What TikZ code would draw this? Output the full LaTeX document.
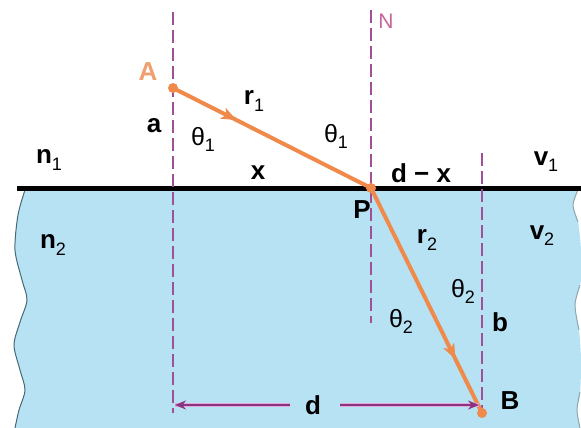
\documentclass[tikz,border=0pt]{standalone}
\usepackage{fontspec}
\setmainfont{Liberation Sans}
\usetikzlibrary{arrows.meta,decorations.markings}
\definecolor{water}{RGB}{182,226,243}
\definecolor{raycol}{RGB}{240,138,75}
\definecolor{dashc}{RGB}{160,80,150}
\definecolor{darrow}{RGB}{140,50,130}
\definecolor{darrowglow}{RGB}{225,170,215}
\definecolor{edgec}{RGB}{70,105,120}
\definecolor{alabel}{RGB}{240,160,110}
\definecolor{nlabel}{RGB}{200,100,150}
\newcommand{\lowsub}[1]{\raisebox{-0.45ex}{\fontsize{18}{18}\selectfont\mdseries #1}}
\begin{document}
\begin{tikzpicture}[x=1pt,y=-1pt,
  lbl/.style={font=\fontsize{26}{26}\selectfont\bfseries, inner sep=0pt},
  th/.style={font=\fontsize{25}{25}\selectfont, inner sep=0pt},
  normalline/.style={draw=dashc, line width=1.5pt, dash pattern=on 13pt off 5pt},
  rayline/.style={draw=raycol, line width=4pt},
  dline/.style={draw=darrow, line width=1.6pt, -{Stealth[length=11pt,width=9pt]}},
  dglow/.style={draw=darrowglow, line width=4pt},
  dot/.style={circle, fill=raycol, inner sep=0pt, minimum size=10pt},
]
\useasboundingbox (0,0) rectangle (581,428);
% water
\fill[water] plot[smooth] coordinates {(25,190) (18,215) (15,250) (22,280) (27,300) (20,322) (14,345) (20,370) (25,390) (19,410) (15,428)}
  -- plot[smooth] coordinates {(580,428) (577,410) (580,395) (581,360) (579,330) (575,305) (581,280) (581,250) (578,222) (573,205) (578,190)} -- cycle;
\draw[edgec, line width=1pt] plot[smooth] coordinates {(25,190) (18,215) (15,250) (22,280) (27,300) (20,322) (14,345) (20,370) (25,390) (19,410) (15,428)};
\draw[edgec!60, line width=1pt] plot[smooth] coordinates {(578,190) (573,205) (578,222)};
\draw[edgec!60, line width=1pt] plot[smooth] coordinates {(580,285) (575,305) (579,330)};
\draw[edgec!60, line width=1pt] plot[smooth] coordinates {(580,392) (577,410) (580,428)};
% surface
\coordinate (S1) at (17,188);
\coordinate (S2) at (581,188);
\draw[black, line width=5pt] (S1) -- (S2);
% normals
\coordinate (L1) at (173,12);  \coordinate (L2) at (173,413);
\coordinate (M1) at (371,10);  \coordinate (M2) at (371,323);
\coordinate (R1) at (482,153); \coordinate (R2) at (482,413);
\draw[normalline] (L1) -- (L2);
\draw[normalline] (M1) -- (M2);
\draw[normalline] (R1) -- (R2);
% ray
\coordinate (A) at (173,88);
\coordinate (P) at (371,188);
\coordinate (B) at (482,413);
\draw[rayline, postaction={decorate}, decoration={markings, mark=at position 0.32 with {\arrow{Stealth[length=15pt,width=12pt,inset=4pt]}}}] (A) -- (P);
\draw[rayline, postaction={decorate}, decoration={markings, mark=at position 0.76 with {\arrow{Stealth[length=15pt,width=12pt,inset=4pt]}}}] (P) -- (B);
\node[dot] (Adot) at (A) {};
\node[dot] (Pdot) at (P) {};
\node[dot] (Bdot) at (B) {};
% d dimension
\node[lbl] (d) at (313,405) {d};
\coordinate (dl) at (290,405); \coordinate (dle) at (175,405);
\coordinate (dr) at (340,405); \coordinate (dre) at (479,405);
\draw[dglow] (dl) -- (dle);
\draw[dglow] (dr) -- (dre);
\draw[dline] (dl) -- (dle);
\draw[dline] (dr) -- (dre);
% labels
\node[lbl, text=alabel] (Alab) at (148,72) {A};
\node[font=\fontsize{21}{21}\selectfont, text=nlabel, inner sep=0pt] (Nlab) at (386,21) {N};
\node[lbl] (r1) at (254,101) {r\lowsub{1}};
\node[lbl] (alab) at (154,126) {a};
\node[th] (th1a) at (203,139) {θ\lowsub{1}};
\node[th] (th1b) at (336,136) {θ\lowsub{1}};
\node[lbl] (n1) at (49,160) {n\lowsub{1}};
\node[lbl] (x) at (258,173) {x};
\node[lbl] (dx) at (421,173) {d − x};
\node[lbl] (v1) at (546,162) {v\lowsub{1}};
\node[lbl] (Plab) at (362,210) {P};
\node[lbl] (n2) at (53,245) {n\lowsub{2}};
\node[lbl] (r2) at (427,240) {r\lowsub{2}};
\node[lbl] (v2) at (542,236) {v\lowsub{2}};
\node[th] (th2a) at (463,291) {θ\lowsub{2}};
\node[th] (th2b) at (401,321) {θ\lowsub{2}};
\node[lbl] (blab) at (500,322) {b};
\node[lbl] (Blab) at (510,401) {B};
\end{tikzpicture}
\end{document}
